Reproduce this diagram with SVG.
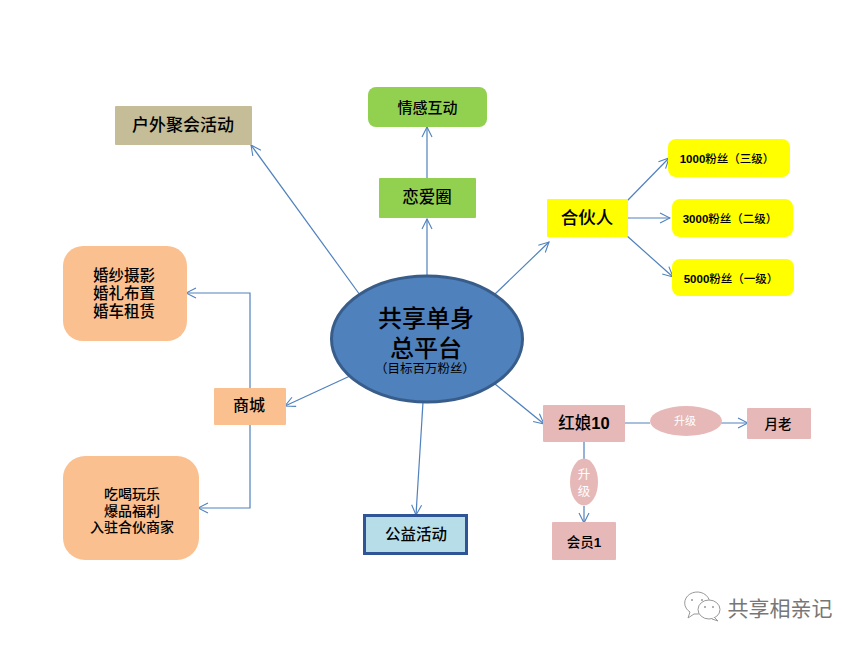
<svg xmlns="http://www.w3.org/2000/svg" width="859" height="646" viewBox="0 0 859 646">
<style>
text{font-family:"Liberation Sans","Noto Sans CJK SC",sans-serif;text-anchor:middle;fill:#000;font-weight:500}
.n{font-weight:700}
.l{font-weight:400}
.w{fill:#fff;font-weight:400}
.c{fill:none;stroke:#4f81bd;stroke-width:1.2}
.pk{fill:#e6b9b8}.or{fill:#fac090}.ye{fill:#ffff00}.gr{fill:#92d050}
.wm{fill:#fff;stroke:#999;stroke-width:1}
</style>
<defs>
<marker id="a" viewBox="0 0 12 12" refX="11" refY="6" markerWidth="12" markerHeight="12" markerUnits="userSpaceOnUse" orient="auto"><path d="M1 1L11 6L1 11" fill="none" stroke="#4f81bd" stroke-width="1.1"/></marker>
</defs>
<rect width="859" height="646" fill="#fff"/>
<g id="connectors">
<path class="c" d="M360 295L251 145" marker-end="url(#a)"/>
<path class="c" d="M427 276V219" marker-end="url(#a)"/>
<path class="c" d="M427 178V127" marker-end="url(#a)"/>
<path class="c" d="M494 295L549 242" marker-end="url(#a)"/>
<path class="c" d="M627 201L669 158" marker-end="url(#a)"/>
<path class="c" d="M626 218H670" marker-end="url(#a)"/>
<path class="c" d="M626 235L673 277" marker-end="url(#a)"/>
<path class="c" d="M495 384L544 424" marker-end="url(#a)"/>
<path class="c" d="M624 423H650M721 423H748" marker-end="url(#a)"/>
<path class="c" d="M584 441V459M584 506V523" marker-end="url(#a)"/>
<path class="c" d="M423 402L416 515" marker-end="url(#a)"/>
<path class="c" d="M350 376L285 406" marker-end="url(#a)"/>
<path class="c" d="M250 388V293H186" marker-end="url(#a)"/>
<path class="c" d="M250 424V508H198" marker-end="url(#a)"/>
</g>
<g id="hub"><ellipse cx="427" cy="339" rx="95.500" ry="63" fill="#4f81bd" stroke="#385d8a" stroke-width="3"/>
<text x="426" y="327" font-size="24">共享单身<tspan x="426" dy="30">总平台</tspan></text><text x="425" y="373" font-size="12.500" class="l">（目标百万粉丝）</text></g>
<g id="outdoor"><rect x="115" y="106" width="137" height="39" rx="1" fill="#c4bd97"/><text x="183" y="131" font-size="17">户外聚会活动</text></g>
<g id="emotion"><rect x="368" y="87" width="119" height="40" rx="8" class="gr"/><text x="427.500" y="113" font-size="15">情感互动</text></g>
<g id="love"><rect x="379" y="178" width="97" height="40" rx="1" class="gr"/><text x="427" y="203" font-size="16.500">恋爱圈</text></g>
<g id="partner"><rect x="547" y="199" width="81" height="38" rx="1" class="ye"/><text x="587" y="224" font-size="17.500">合伙人</text></g>
<g id="f1000"><rect x="668" y="139" width="122" height="38" rx="8" class="ye"/><text x="727" y="163" font-size="11.500"><tspan class="n">1000</tspan>粉丝（三级）</text></g>
<g id="f3000"><rect x="672" y="199" width="121" height="38" rx="8" class="ye"/><text x="730" y="223" font-size="11.500"><tspan class="n">3000</tspan>粉丝（二级）</text></g>
<g id="f5000"><rect x="672" y="259" width="122" height="37" rx="8" class="ye"/><text x="731" y="283" font-size="11.500"><tspan class="n">5000</tspan>粉丝（一级）</text></g>
<g id="wedding"><rect x="63" y="246" width="124" height="95" rx="20" class="or"/><text x="124" y="281" font-size="15.500">婚纱摄影<tspan x="124" dy="18">婚礼布置</tspan><tspan x="124" dy="18">婚车租赁</tspan></text></g>
<g id="mall"><rect x="214" y="388" width="72" height="37" rx="1" class="or"/><text x="249" y="411" font-size="16">商城</text></g>
<g id="food"><rect x="63" y="456" width="136" height="104" rx="22" class="or"/><text x="132" y="499" font-size="14">吃喝玩乐<tspan x="132" dy="16.500">爆品福利</tspan><tspan x="132" dy="16.500">入驻合伙商家</tspan></text></g>
<g id="charity"><rect x="364.500" y="515.500" width="102" height="38" fill="#b7dee8" stroke="#2f5597" stroke-width="3"/><text x="416" y="540" font-size="15.500">公益活动</text></g>
<g id="matchmaker"><rect x="543" y="405" width="82" height="37" rx="1" class="pk"/><text x="584" y="429" font-size="16.500">红娘<tspan class="n">10</tspan></text></g>
<g id="upgrade1"><ellipse cx="686" cy="421" rx="36" ry="15" class="pk"/><text x="685" y="425" font-size="11" class="w">升级</text></g>
<g id="elder"><rect x="747" y="408" width="64" height="31" rx="1" class="pk"/><text x="778" y="429" font-size="13.500">月老</text></g>
<g id="upgrade2"><ellipse cx="584" cy="482" rx="14" ry="23.500" class="pk"/><text x="584" y="479" font-size="12.500" class="w">升<tspan x="584" dy="17">级</tspan></text></g>
<g id="member"><rect x="552" y="522" width="64" height="38" rx="1" class="pk"/><text x="584" y="547" font-size="13.500">会员<tspan class="n">1</tspan></text></g>
<g id="watermark"><path class="wm" d="M697 614A12.500 11 0 1 0 690 612L688 618L694 614Z"/><ellipse class="wm" cx="709" cy="609.500" rx="11" ry="9.500"/><path class="wm" d="M714 617L718 621L712 619"/><circle cx="692" cy="600" r="1" fill="#999"/><circle cx="702" cy="600" r="1" fill="#999"/><circle cx="705" cy="607" r="1" fill="#999"/><circle cx="713" cy="607" r="1" fill="#999"/><text x="780" y="616" font-size="21" style="fill:#777;font-weight:400">共享相亲记</text></g>
</svg>
